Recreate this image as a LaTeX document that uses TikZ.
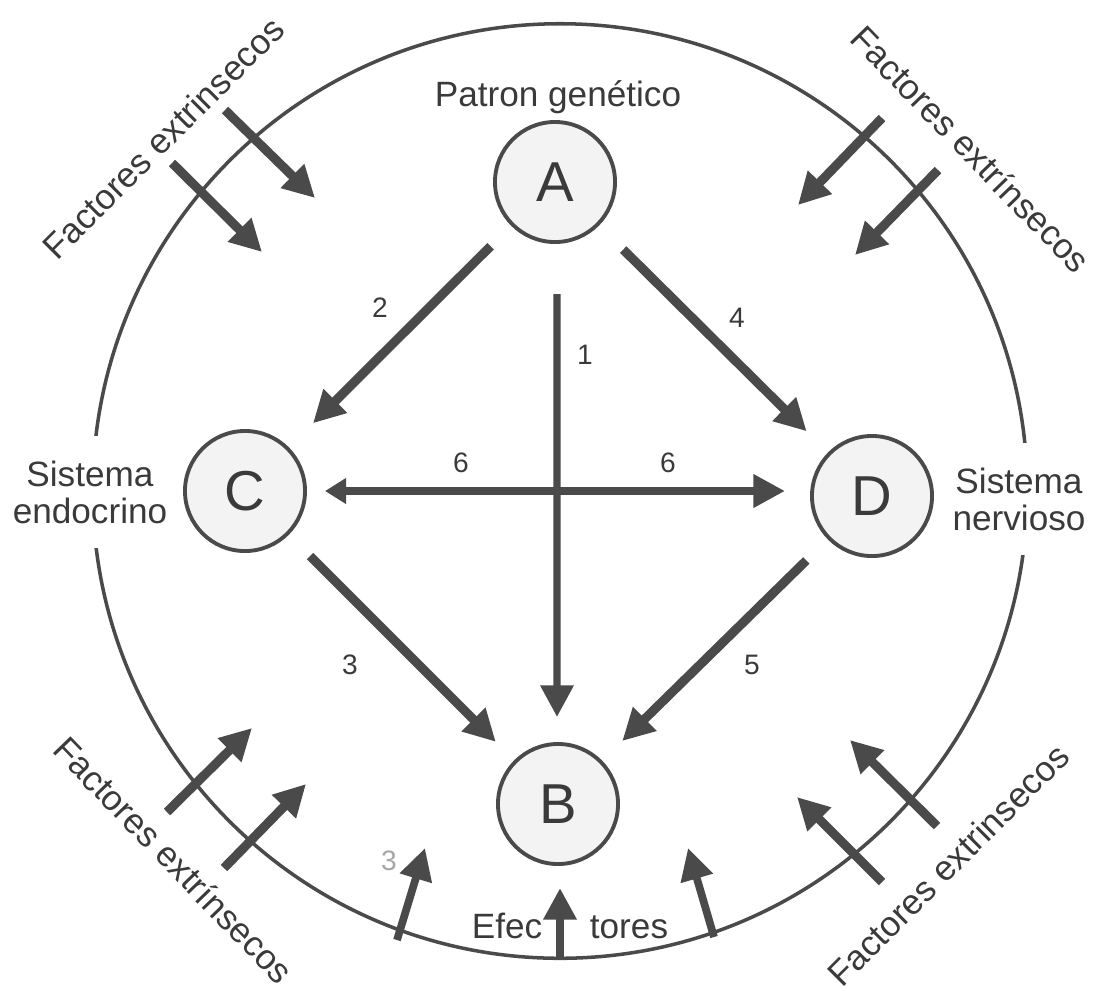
\documentclass[tikz,border=0pt]{standalone}
\usepackage{fontspec}
\setmainfont{Liberation Sans}
\usetikzlibrary{arrows.meta}
\definecolor{ink}{HTML}{4A4A4A}
\definecolor{txt}{HTML}{3A3A3A}
\definecolor{nodefill}{HTML}{F3F3F3}

\begin{document}
\begin{tikzpicture}[
        x=0.01cm, y=-0.01cm,
        stage/.style={draw=ink, circle, fill=nodefill, line width=1.1pt, minimum size=1.2cm, inner sep=0pt, text=txt, font=\fontsize{16}{16}\selectfont},
        caption/.style={text=txt, align=center, inner sep=1pt, font=\fontsize{10}{10.5}\selectfont},
        num/.style={text=txt, inner sep=0pt, font=\fontsize{8}{8}\selectfont},
        flow/.style={draw=ink, line width=2.6pt, -{Triangle[length=9pt,width=9pt]}},
        factor/.style={draw=ink, line width=2.6pt, -{Triangle[length=9pt,width=9pt]}},
    ]
    \useasboundingbox (0,0) rectangle (1097,990);
    % envelope
    \draw[ink, line width=1pt] (560,491) circle[radius=4.67cm];

    \node[stage](A) at (555,182){A};
    \node[stage](C) at (245,491){C};
    \node[stage](D) at (872,496){D};
    \node[stage](B) at (558,804){B};

    \node[caption](patron) at (558,97){Patron genético};
    \node[caption, fill=white, inner ysep=7pt](endo) at (90,492){Sistema\\endocrino};
    \node[caption, fill=white, inner ysep=7pt](nerv) at (1019,499){Sistema\\nervioso};
    \node[caption, anchor=base](efec) at (507,938){Efec};
    \node[caption, anchor=base](tores) at (629,938){tores};

    \node[caption, rotate=45](ftl) at (163,138){Factores extrinsecos};
    \node[caption, rotate=-46](ftr) at (971,149){Factores extrínsecos};
    \node[caption, rotate=-46](fbl) at (174,860){Factores extrínsecos};
    \node[caption, rotate=45](fbr) at (948,865){Factores extrinsecos};

    % pathways
    \draw[flow, shorten <=0.29cm, shorten >=0.34cm] (A) to (C);
    \draw[flow, shorten <=0.34cm, shorten >=0.30cm] (A) to (D);
    \draw[flow, shorten <=0.30cm, shorten >=0.26cm] (C) to (B);
    \draw[flow, shorten <=0.30cm, shorten >=0.28cm] (D) to (B);
    \draw[flow, line width=2.1pt, shorten <=0.5cm, shorten >=0.25cm] ([xshift=0.02cm]A.south) to ([xshift=-0.01cm]B.north);
    \draw[flow, line width=2.4pt, {Triangle[length=6pt,width=7pt]}-{Triangle[length=9pt,width=9pt]}, shorten <=0.18cm, shorten >=0.25cm] (C.east) to (D.west |- C.east);

    \node[num](n1) at (585,355){1};
    \node[num](n2) at (380,308){2};
    \node[num](n3) at (350,665){3};
    \node[num](n4) at (737,318){4};
    \node[num](n5) at (752,665){5};
    \node[num](n6a) at (461,463){6};
    \node[num](n6b) at (668,463){6};
    \node[num, text=txt!45](n7) at (389,861){3};

    % outside influences
    \draw[factor] (225,110) -- (315,198);
    \draw[factor] (172,163) -- (262,252);
    \draw[factor] (882,118) -- (798,205);
    \draw[factor] (938,170) -- (855,255);
    \draw[factor] (167,812) -- (252,728);
    \draw[factor] (224,868) -- (306,784);
    \draw[factor] (937,826) -- (850,740);
    \draw[factor] (882,882) -- (797,797);
    \draw[factor, line width=2.2pt] (397,940) -- (425,848);
    \draw[factor, line width=2.4pt] (560,958) -- (560,888);
    \draw[factor, line width=2.2pt] (714,937) -- (688,848);
\end{tikzpicture}
\end{document}
